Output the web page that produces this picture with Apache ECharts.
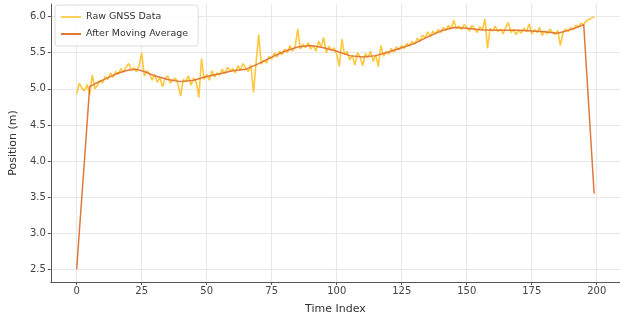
<!DOCTYPE html>
<html>
<head>
<meta charset="utf-8">
<script src="https://cdn.jsdelivr.net/npm/echarts@6.0.0/dist/echarts.min.js"></script>
<style>
  html, body { margin: 0; padding: 0; background: #fff; }
  #chart { width: 620px; height: 320px; }
</style>
</head>
<body>
<div id="chart"></div>
<script>
// raw GNSS readings, one per time index (0..199)
const rawValues = [
  4.93, 5.08, 5.01, 4.97, 5.06, 4.92, 5.19, 5.00, 5.05, 5.12,
  5.08, 5.17, 5.13, 5.22, 5.16, 5.24, 5.20, 5.28, 5.23, 5.30,
  5.35, 5.26, 5.29, 5.24, 5.31, 5.50, 5.18, 5.25, 5.21, 5.12,
  5.20, 5.09, 5.16, 5.03, 5.14, 5.18, 5.08, 5.12, 5.15, 5.06,
  4.90, 5.13, 5.10, 5.18, 5.05, 5.15, 5.09, 4.88, 5.42, 5.13,
  5.20, 5.12, 5.25, 5.16, 5.22, 5.19, 5.27, 5.21, 5.30, 5.24,
  5.28, 5.22, 5.32, 5.26, 5.35, 5.29, 5.24, 5.33, 4.95, 5.36,
  5.75, 5.34, 5.40, 5.36, 5.45, 5.41, 5.50, 5.44, 5.52, 5.47,
  5.55, 5.50, 5.60, 5.52, 5.58, 5.83, 5.55, 5.62, 5.57, 5.64,
  5.55, 5.60, 5.52, 5.66, 5.58, 5.71, 5.50, 5.59, 5.53, 5.57,
  5.48, 5.31, 5.69, 5.47, 5.52, 5.40, 5.46, 5.33, 5.50, 5.44,
  5.32, 5.49, 5.43, 5.52, 5.38, 5.47, 5.31, 5.60, 5.45, 5.52,
  5.48, 5.56, 5.51, 5.58, 5.54, 5.60, 5.56, 5.63, 5.59, 5.66,
  5.62, 5.70, 5.66, 5.74, 5.71, 5.79, 5.72, 5.80, 5.76, 5.82,
  5.78, 5.85, 5.81, 5.88, 5.83, 5.95, 5.84, 5.87, 5.82, 5.89,
  5.85, 5.80, 5.88, 5.83, 5.78, 5.86, 5.81, 5.97, 5.56, 5.84,
  5.80, 5.87, 5.79, 5.83, 5.76, 5.85, 5.92, 5.78, 5.82, 5.75,
  5.81, 5.77, 5.84, 5.79, 5.90, 5.76, 5.82, 5.78, 5.85, 5.74,
  5.80, 5.76, 5.83, 5.78, 5.75, 5.81, 5.60, 5.77, 5.83, 5.79,
  5.85, 5.82, 5.88, 5.86, 5.91, 5.89, 5.94, 5.96, 5.98, 6.00
];

// moving average (index, value)
const maIndex = [0, 1, 2, 3, 4, 5, 7, 10, 13, 16, 20, 23, 26, 30, 35, 40, 45, 50, 55, 60,
  65, 70, 75, 80, 85, 90, 95, 100, 105, 110, 115, 120, 125, 130, 135, 140, 145, 150,
  155, 160, 165, 170, 175, 180, 185, 190, 193, 195, 196, 197, 198, 199];
const maValues = [2.50, 3.01, 3.51, 4.01, 4.52, 5.03, 5.07, 5.12, 5.17, 5.22, 5.26, 5.27,
  5.24, 5.18, 5.13, 5.10, 5.12, 5.17, 5.21, 5.25, 5.27, 5.35, 5.44, 5.52, 5.58, 5.60,
  5.57, 5.52, 5.46, 5.44, 5.46, 5.51, 5.57, 5.63, 5.72, 5.80, 5.85, 5.84, 5.82, 5.81,
  5.81, 5.81, 5.80, 5.79, 5.77, 5.82, 5.86, 5.89, 5.31, 4.73, 4.14, 3.55];

const xTicks = [0, 25, 50, 75, 100, 125, 150, 175, 200];
const yTicks = [2.5, 3.0, 3.5, 4.0, 4.5, 5.0, 5.5, 6.0];

const font = "DejaVu Sans";
const gridLine = { show: true, lineStyle: { color: "#e8e8e8", width: 1 } };

const chart = echarts.init(document.getElementById("chart"), null, { renderer: "canvas" });

chart.setOption({
  animation: false,
  textStyle: { fontFamily: font },
  grid: { left: 50, right: 0, top: 4, bottom: 30 },
  legend: {
    orient: "vertical",
    left: 55,
    top: 5,
    padding: [7, 10, 7, 6],
    itemGap: 7,
    itemWidth: 20,
    itemHeight: 2,
    icon: "rect",
    backgroundColor: "rgba(255,255,255,0.85)",
    borderColor: "#dddddd",
    borderWidth: 1,
    borderRadius: 3,
    textStyle: { fontSize: 9.5, color: "#333", fontFamily: font },
    data: ["Raw GNSS Data", "After Moving Average"]
  },
  xAxis: {
    type: "value",
    min: -9.95,
    max: 208.95,
    name: "Time Index",
    nameLocation: "middle",
    nameGap: 22,
    nameTextStyle: { fontSize: 11, color: "#333" },
    axisLine: { show: true, onZero: false, lineStyle: { color: "#555", width: 1 } },
    axisTick: { show: true, length: 3, customValues: xTicks, lineStyle: { color: "#555" } },
    axisLabel: { customValues: xTicks, fontSize: 10, color: "#444", margin: 4 },
    splitLine: gridLine
  },
  yAxis: {
    type: "value",
    min: 2.325,
    max: 6.175,
    name: "Position (m)",
    nameLocation: "middle",
    nameGap: 28,
    nameTextStyle: { fontSize: 11, color: "#333" },
    axisLine: { show: true, onZero: false, lineStyle: { color: "#555", width: 1 } },
    axisTick: { show: true, length: 3, customValues: yTicks, lineStyle: { color: "#555" } },
    axisLabel: {
      customValues: yTicks,
      fontSize: 10,
      color: "#444",
      margin: 5,
      formatter: v => v.toFixed(1)
    },
    splitLine: gridLine
  },
  series: [
    {
      name: "Raw GNSS Data",
      type: "line",
      symbol: "none",
      data: rawValues.map((v, i) => [i, v]),
      lineStyle: { color: "#FFBE1A", width: 1.6, opacity: 0.85 },
      itemStyle: { color: "#FFCF5C" },
      z: 2
    },
    {
      name: "After Moving Average",
      type: "line",
      symbol: "none",
      data: maIndex.map((x, i) => [x, maValues[i]]),
      lineStyle: { color: "#E0793A", width: 1.5 },
      itemStyle: { color: "#E0793A" },
      z: 3
    }
  ]
});
</script>
</body>
</html>
